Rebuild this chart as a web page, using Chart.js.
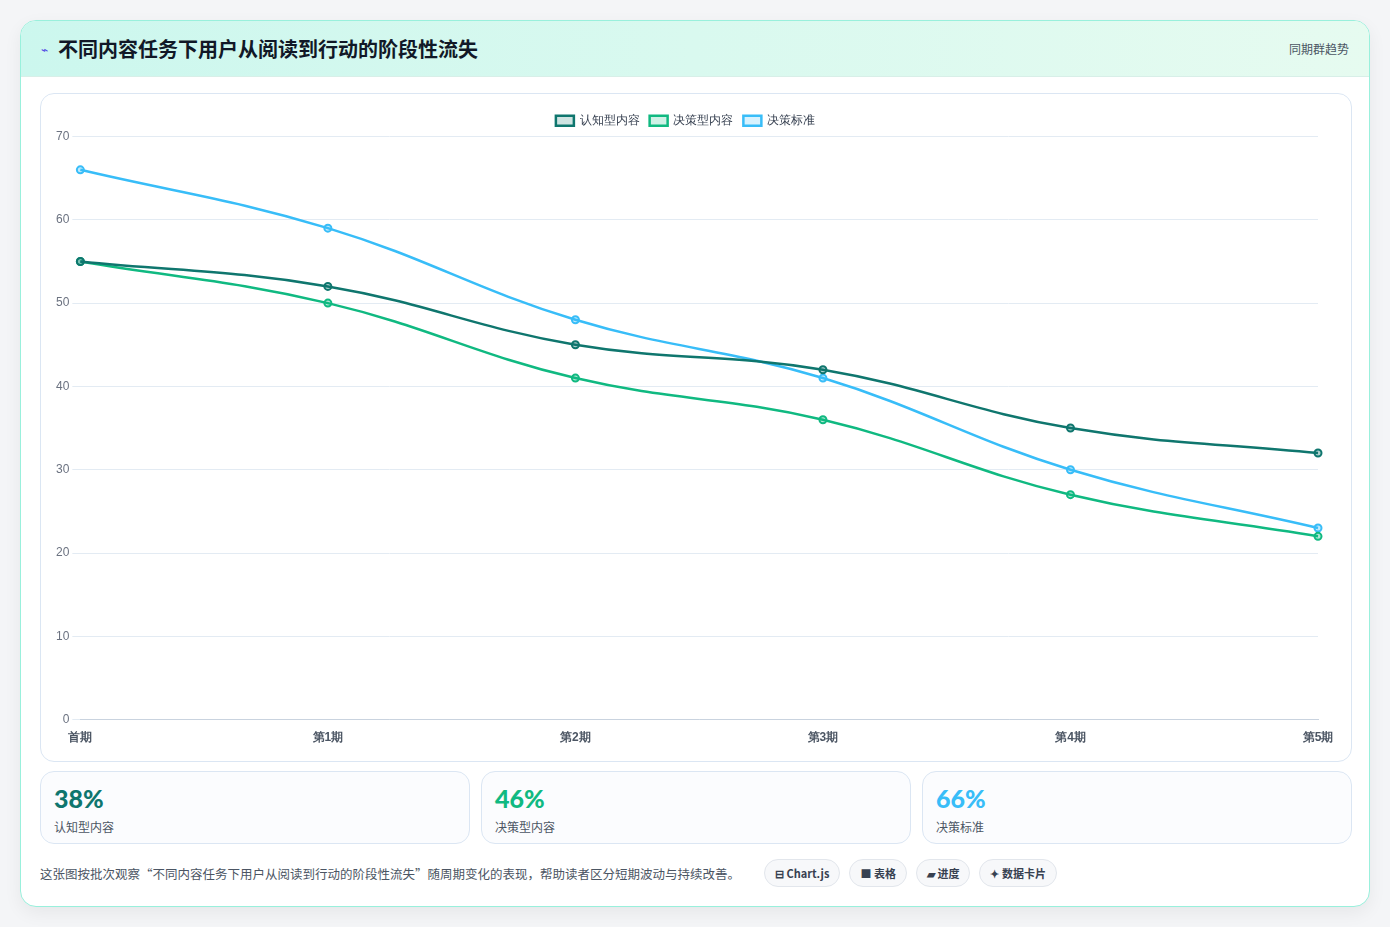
<!DOCTYPE html>
<html lang="zh">
<head>
<meta charset="utf-8">
<script src="https://cdn.jsdelivr.net/npm/chart.js@4"></script>
<style>
  body { margin: 0; background: #f4f5f7; font-family: "Noto Sans CJK SC", "Noto Sans", sans-serif; }
  .card { position: absolute; left: 20px; top: 20px; width: 1348px; height: 885px; background: #fff;
    border: 1px solid #99f0dc; border-radius: 16px; overflow: hidden; box-shadow: 0 6px 18px rgba(0,0,0,0.06); }
  .head { height: 55px; background: linear-gradient(90deg, #ccf7ee, #e6fbf0); border-bottom: 1px solid #d8efe8;
    display: flex; align-items: center; padding: 0 20px; }
  .head h1 { font-size: 20px; margin: 0; color: #111827; font-weight: 700; flex: 1; }
  .head .ic { color: #4f46e5; font-size: 12px; margin-right: 10px; }
  .head .tag { font-size: 12px; color: #4b5563; }
  .box { position: absolute; left: 19px; top: 72px; width: 1310px; height: 667px; border: 1px solid #dbe6f3;
    border-radius: 14px; background: #fff; }
  .stats { position: absolute; left: 19px; top: 750px; width: 1312px; display: flex; gap: 11px; }
  .stat { flex: 1; height: 73px; border: 1px solid #dbe6f3; border-radius: 14px; background: #fbfcfe; padding: 0 13px; box-sizing: border-box; }
  .stat b { display: block; font-family: Lato, "Noto Sans", sans-serif; font-size: 25px; font-weight: 900; margin-top: 11px; line-height: 30px; }
  .stat span { font-size: 12px; color: #4b5563; }
  .foot { position: absolute; left: 19px; top: 838px; display: flex; align-items: center; font-size: 12.5px; color: #4b5563; }
  .pill { margin-left: 9px; border: 1px solid #e2e6ec; background: #f7f8fa; border-radius: 14px; padding: 5px 10px; font-size: 11px; font-weight: 700; color: #374151; }
</style>
</head>
<body>
<div class="card">
  <div class="head"><span class="ic">⌁</span><h1>不同内容任务下用户从阅读到行动的阶段性流失</h1><span class="tag">同期群趋势</span></div>
  <div class="box"><canvas id="c"></canvas></div>
  <div class="stats">
    <div class="stat"><b style="color:#0f766e">38%</b><span>认知型内容</span></div>
    <div class="stat"><b style="color:#10b981">46%</b><span>决策型内容</span></div>
    <div class="stat"><b style="color:#38bdf8">66%</b><span>决策标准</span></div>
  </div>
  <div class="foot">这张图按批次观察“不同内容任务下用户从阅读到行动的阶段性流失”随周期变化的表现，帮助读者区分短期波动与持续改善。
    <span class="pill" style="margin-left:24px">⊟ Chart.js</span><span class="pill">■ 表格</span><span class="pill">▰ 进度</span><span class="pill">✦ 数据卡片</span></div>
</div>
<script>
const periods = ["首期", "第1期", "第2期", "第3期", "第4期", "第5期"];
const cognitive = [55, 52, 45, 42, 35, 32];
const decision = [55, 50, 41, 36, 27, 22];
const criteria = [66, 59, 48, 41, 30, 23];

function line(label, data, color) {
  return { label, data, borderColor: color, backgroundColor: color + "33", borderWidth: 2.5,
    tension: 0.4, pointRadius: 3.5, pointBorderWidth: 2, pointBackgroundColor: color + "55", pointBorderColor: color };
}

const canvas = document.getElementById("c");
canvas.width = 1310; canvas.height = 667;
canvas.style.width = "1310px"; canvas.style.height = "667px";
new Chart(canvas, {
  type: "line",
  data: { labels: periods, datasets: [
    line("认知型内容", cognitive, "#0f766e"),
    line("决策型内容", decision, "#10b981"),
    line("决策标准", criteria, "#38bdf8")
  ]},
  options: {
    responsive: false, animation: false,
    layout: { padding: { left: 12, right: 33, top: 11, bottom: 13 } },
    plugins: { legend: { labels: { boxWidth: 18, boxHeight: 10, font: { size: 11.5 }, color: "#374151" } } },
    scales: {
      y: { min: 0, max: 70, ticks: { stepSize: 10, color: "#6b7280", font: { size: 12 } },
        grid: { color: "#e3ebf3" }, border: { display: false } },
      x: { ticks: { color: "#4b5563", font: { size: 12, weight: "bold" } }, grid: { display: false },
        border: { color: "#c9d3df" } }
    }
  }
});
</script>
</body>
</html>
